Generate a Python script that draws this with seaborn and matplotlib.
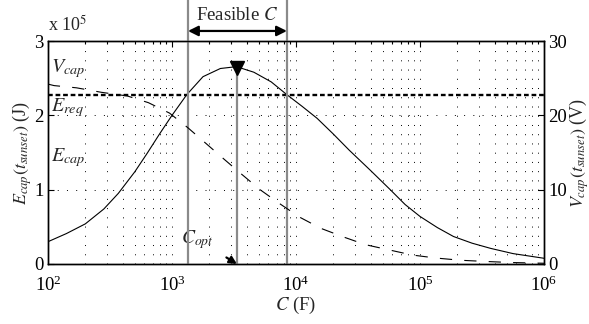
import numpy as np
import pandas as pd
import matplotlib
matplotlib.use("Agg")
import matplotlib.pyplot as plt
import matplotlib.transforms as mtransforms
from matplotlib.ticker import LogLocator, FixedLocator, NullFormatter
import seaborn as sns

# ---- data ----
C_e = [100, 141, 200, 282, 369, 501, 631, 794, 1000, 1318, 1778, 2455,
       3311, 4571, 6310, 8414, 11220, 14791, 19953, 26915, 39811, 57544,
       75858, 100000, 138038, 186209, 263027, 371535, 562341, 1000000]
E_cap = [0.30e5, 0.41e5, 0.54e5, 0.74e5, 0.95e5, 1.24e5, 1.49e5, 1.75e5,
         2.00e5, 2.28e5, 2.52e5, 2.63e5, 2.655e5, 2.58e5, 2.45e5, 2.28e5,
         2.12e5, 1.96e5, 1.75e5, 1.53e5, 1.26e5, 1.00e5, 0.80e5, 0.64e5,
         0.49e5, 0.37e5, 0.28e5, 0.21e5, 0.14e5, 0.077e5]

C_v = [100, 112, 170, 269, 437, 646, 955, 1350, 2630, 3630, 5130, 7410,
       10700, 15850, 24500, 36300, 56200, 87100, 135000, 214000, 331000,
       537000, 1000000]
V_cap = [24.2, 24.0, 23.7, 23.1, 22.6, 21.7, 20.3, 18.3, 14.1, 12.1, 10.0,
         8.1, 6.3, 4.8, 3.6, 2.6, 1.9, 1.2, 0.8, 0.5, 0.35, 0.2, 0.1]

E_req = 2.28e5
C_min, C_max = 1346, 8450
C_opt = 3342
E_opt = 2.64e5

left_ticks = [0, 1e5, 2e5, 3e5]
left_ticklabels = ["0", "1", "2", "3"]
right_ticks = [0, 10, 20, 30]

# ---- style ----
sns.set_style("white")
plt.rcParams["font.family"] = ["Liberation Serif", "DejaVu Serif"]
plt.rcParams["mathtext.fontset"] = "stix"
plt.rcParams["font.size"] = 12
plt.rcParams["xtick.direction"] = "in"
plt.rcParams["ytick.direction"] = "in"

fig = plt.figure(figsize=(5.89, 3.24), dpi=100)
ax = fig.add_axes([48/589, 60/324, 496/589, 223/324])

dfE = pd.DataFrame({"C": C_e, "E": E_cap})
dfV = pd.DataFrame({"C": C_v, "V": V_cap})

sns.lineplot(data=dfE, x="C", y="E", ax=ax, color="k", lw=0.8, zorder=4)
ax.set_xscale("log")
ax.set_xlim(1e2, 1e6)
ax.set_ylim(0, 3e5)

# grid (MATLAB-like dotted)
ax.xaxis.set_minor_locator(LogLocator(base=10, subs=np.arange(2, 10)))
ax.xaxis.set_minor_formatter(NullFormatter())
gstyle = dict(color="k", lw=0.7, ls=(0, (1, 8.5)))
ax.grid(True, which="major", axis="x", **gstyle)
ax.grid(True, which="minor", axis="x", **gstyle)
ax.grid(True, which="major", axis="y", **gstyle)

ax.yaxis.set_major_locator(FixedLocator(left_ticks))
ax.set_yticklabels(left_ticklabels)

ax.axhline(E_req, color="k", lw=1.7, ls=(0, (2, 1.2)), zorder=3)

# right axis
ax2 = ax.twinx()
sns.lineplot(data=dfV, x="C", y="V", ax=ax2, color="k", lw=0.8,
             ls=(0, (11, 11)), zorder=4)
ax2.set_xscale("log")
ax2.set_xlim(1e2, 1e6)
ax2.set_ylim(0, 30)
ax2.yaxis.set_major_locator(FixedLocator(right_ticks))
ax2.set_ylabel(r"$V_{cap}(t_{sunset})$ (V)", fontsize=13, labelpad=0)
ax2.grid(False)

ax.set_xlabel(r"$C$ (F)", fontsize=13.5, labelpad=0)
ax.set_ylabel(r"$E_{cap}(t_{sunset})$ (J)", fontsize=13, labelpad=0)

for a in (ax, ax2):
    for s in a.spines.values():
        s.set_color("k")
        s.set_linewidth(1.0)
    a.tick_params(which="both", direction="in", colors="k", labelsize=13.5,
                  length=4, width=0.8)
    a.tick_params(which="minor", length=2.5)
ax.tick_params(axis="x", which="major", pad=8)
ax.tick_params(axis="y", pad=3)
ax2.tick_params(axis="y", pad=3)
ax.tick_params(which="both", top=True, right=False)
ax2.tick_params(which="both", left=False, right=True)

# feasible range lines extending above the axes
trans = mtransforms.blended_transform_factory(ax.transData, ax.transAxes)
for cx in (C_min, C_max):
    ax.plot([cx, cx], [0, 1.19], transform=trans, color="#8a8a8a", lw=1.6,
            clip_on=False, zorder=5)

# C_opt line and marker
ax.plot([C_opt, C_opt], [0, E_opt], color="#8a8a8a", lw=1.6, zorder=5)
ax.plot([C_opt], [E_opt], marker="v", color="k", ms=9.5, zorder=6)

ax.annotate("", xy=(C_min, 1.045), xytext=(C_max, 1.045), xycoords=trans,
            textcoords=trans,
            arrowprops=dict(arrowstyle="<|-|>", color="k", lw=1.6,
                            mutation_scale=15, shrinkA=0, shrinkB=0))
ax.text(np.sqrt(C_min * C_max), 1.115, r"Feasible $C$", transform=trans,
        ha="center", va="center", fontsize=13.5)

ax.annotate(r"$C_{opt}$", xy=(C_opt, 0), xytext=(1600, 0.33e5),
            ha="center", va="center", fontsize=14,
            arrowprops=dict(arrowstyle="-|>", color="k", lw=1.6,
                            mutation_scale=11, shrinkA=8, shrinkB=0))

ax.text(106, 2.63e5, r"$V_{cap}$", fontsize=14.5, va="center", ha="left")
ax.text(106, 2.10e5, r"$E_{req}$", fontsize=14.5, va="center", ha="left")
ax.text(106, 1.43e5, r"$E_{cap}$", fontsize=14.5, va="center", ha="left")

fig.text(48/589, 1 - 25/324, r"x 10$^5$", fontsize=13, ha="left",
         va="center")

fig.savefig("out.png", dpi=100)
